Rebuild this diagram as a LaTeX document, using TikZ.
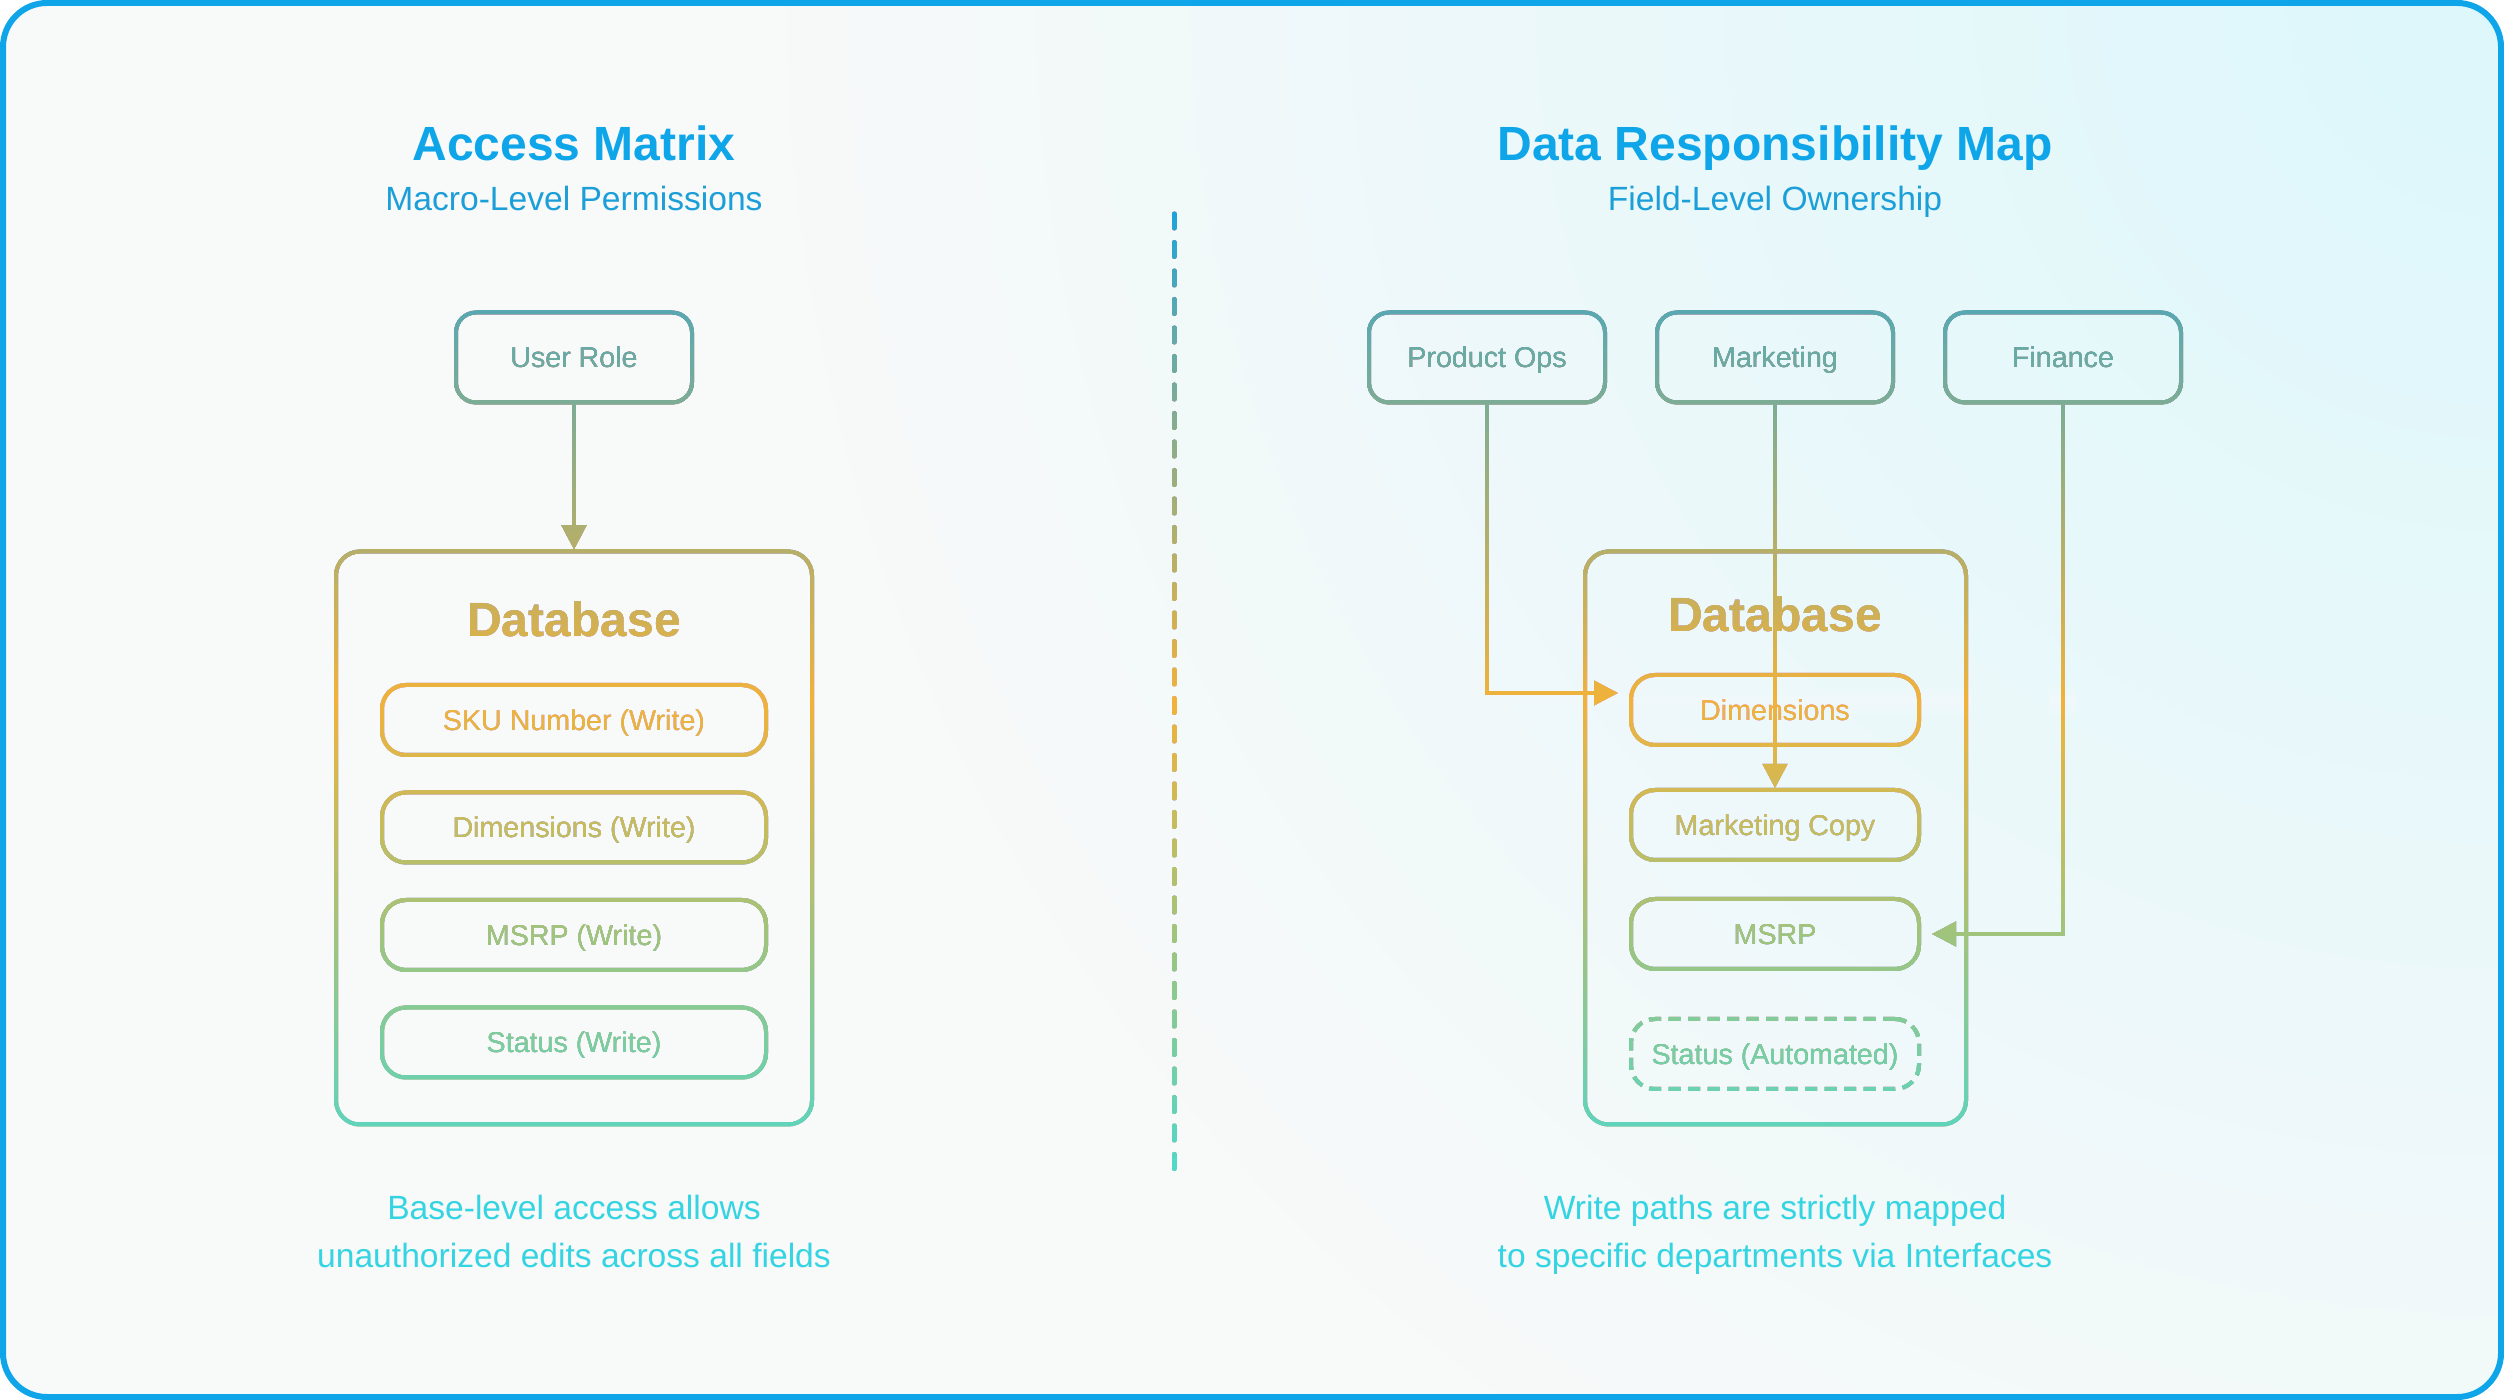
\documentclass[tikz,border=0pt]{standalone}
\usepackage{fontspec}
\setmainfont{Liberation Sans}
\usepackage{xcolor}
\usepackage{tikz}
\usetikzlibrary{arrows.meta, positioning}
\definecolor{frameblue}{HTML}{0EA5E9}
\definecolor{subblue}{HTML}{1C9FD8}
\definecolor{capcyan}{HTML}{35D4E2}
\definecolor{bgwhite}{HTML}{F8F9F9}
\definecolor{bgcyan}{HTML}{DCF7FB}
% stroke colours, top to bottom
\definecolor{gA}{HTML}{0EA5E9}
\definecolor{gB}{HTML}{1BA3DA}
\definecolor{gC}{HTML}{58A8B2}
\definecolor{gD}{HTML}{7EAC94}
\definecolor{gE}{HTML}{F0B23A}
\definecolor{gF}{HTML}{9EC47E}
\definecolor{gG}{HTML}{4ED8CC}
\definecolor{gH}{HTML}{2AD5E6}
\pgfdeclareverticalshading{flowgrad}{100bp}{color(0bp)=(gH); color(25bp)=(gH);
  color(33.04bp)=(gG); color(41.43bp)=(gF); color(50bp)=(gE); color(60.54bp)=(gD);
  color(63.93bp)=(gC); color(67.43bp)=(gB); color(75bp)=(gA); color(100bp)=(gA)}

\begin{document}
\begin{tikzpicture}[x=0.1mm, y=-0.1mm, font=\fontsize{8.15}{10}\selectfont,
        role/.style={draw, line width=0.4mm, rounded corners=2mm,
                     minimum width=23.6mm, minimum height=9mm,
                     text height=5.85pt, text depth=0pt, inner sep=0pt},
        field/.style={draw, line width=0.4mm, rounded corners=2.4mm,
                      minimum width=#1, minimum height=7mm,
                      text height=5.85pt, text depth=0pt, inner sep=0pt},
        store/.style={draw, line width=0.4mm, rounded corners=2.4mm,
                      minimum width=#1, minimum height=57.3mm, inner sep=0pt},
        storetitle/.style={anchor=base, font=\bfseries\fontsize{13.66}{16}\selectfont},
        flow/.style={line width=0.4mm, -{Triangle[length=2.4mm, width=2.4mm]}},
        title/.style={anchor=base, text=frameblue, font=\bfseries\fontsize{13.66}{16}\selectfont},
        subtitle/.style={anchor=base, text=subblue, font=\fontsize{9.56}{12}\selectfont},
        caption/.style={anchor=base, text=capcyan, font=\fontsize{9.56}{12}\selectfont}]
  \useasboundingbox (0,0) rectangle (2504,1400);
  % background
  \fill[white] (0,0) rectangle (2504,1400);
  \fill[bgwhite, rounded corners=4.4mm] (3,3) rectangle (2501,1397);
  \begin{scope}
    \clip[rounded corners=4.4mm] (3,3) rectangle (2501,1397);
    \shade[inner color=bgcyan, outer color=bgwhite] (2504,0) circle (1750);
  \end{scope}

  % left: access matrix (drawn black, coloured by the shading below)
  \node[role] (user) at (574,357.5) {User Role};
  \node[store=47.6mm] (ldb) at (574,838) {};
  \node[storetitle] (ldbt) at (574,637) {Database};
  \node[field=38.4mm] (sku) at (574,720) {SKU Number (Write)};
  \node[field=38.4mm, below=3.35mm of sku] (dimw) {Dimensions (Write)};
  \node[field=38.4mm, below=3.35mm of dimw] (msrpw) {MSRP (Write)};
  \node[field=38.4mm, below=3.35mm of msrpw] (statw) {Status (Write)};
  \draw[flow] (user) -- (ldb);

  % divider
  \coordinate (divtop) at (1174,214);
  \coordinate (divbot) at (1174,1172);
  \draw[line width=0.5mm, line cap=round, dash pattern=on 1.4mm off 1.45mm] (divtop) -- (divbot);

  % right: responsibility map
  \node[role] (ops) at (1487,357.5) {Product Ops};
  \node[role] (mkt) at (1775,357.5) {Marketing};
  \node[role] (fin) at (2063,357.5) {Finance};
  \node[store=38.1mm] (rdb) at (1775.5,838) {};
  \node[storetitle] (rdbt) at (1775,632) {Database};
  \node[field=28.8mm] (dim) at (1775,710) {Dimensions};
  \node[field=28.8mm, below=4.1mm of dim] (copy) {Marketing Copy};
  \node[field=28.8mm, below=3.5mm of copy] (msrp) {MSRP};
  \node[field=28.8mm, below=4.6mm of msrp, dash pattern=on 1.2mm off 0.75mm] (auto) {Status (Automated)};
  \draw[flow, shorten >=1.1mm] (ops) |- ([yshift=1.7mm]dim.west);
  \draw[flow] (mkt) -- (copy);
  \draw[flow, shorten >=1.1mm] (fin) |- (msrp);

  % colour all black strokes and labels (kept off the tinted corner)
  \begin{scope}
    \clip (0,0) rectangle (1972,1400) (1935,300) rectangle (2192,414)
          (2049,400) rectangle (2077,948) (1915,916) rectangle (2077,950);
    \shade[shading=flowgrad, blend mode=lighten] (0,0) rectangle (2504,1400);
  \end{scope}

  % frame and texts
  \draw[frameblue, line width=0.6mm, rounded corners=4.4mm] (3,3) rectangle (2501,1397);
  \node[title] (ltitle) at (574,161) {Access Matrix};
  \node[subtitle] (lsub) at (574,211) {Macro-Level Permissions};
  \node[title] (rtitle) at (1775,161) {Data Responsibility Map};
  \node[subtitle] (rsub) at (1775,211) {Field-Level Ownership};
  \node[caption] (lcap1) at (574,1219) {Base-level access allows};
  \node[caption] (lcap2) at (574,1267) {unauthorized edits across all fields};
  \node[caption] (rcap1) at (1775,1219) {Write paths are strictly mapped};
  \node[caption] (rcap2) at (1775,1267) {to specific departments via Interfaces};
\end{tikzpicture}
\end{document}
